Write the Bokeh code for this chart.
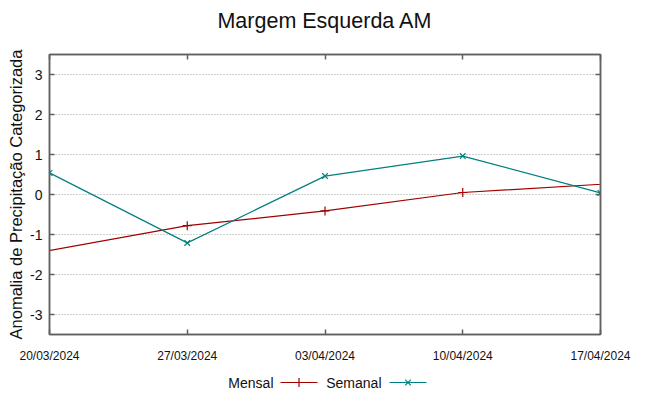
import pandas as pd
from bokeh.plotting import figure
from bokeh.models import (FixedTicker, DatetimeTickFormatter, DatetimeAxis, LinearAxis,
                          Range1d, Label)
from bokeh.layouts import column
from bokeh.embed import file_html
from bokeh.resources import INLINE

# ---- data ----
title_text = "Margem Esquerda AM"
y_label = "Anomalia de Precipitação Categorizada"
tick_dates = ["20/03/2024", "27/03/2024", "03/04/2024", "10/04/2024", "17/04/2024"]
y_ticks = [-3, -2, -1, 0, 1, 2, 3]
series_names = ["Mensal", "Semanal"]
mensal_dates = ["13/03/2024", "27/03/2024", "03/04/2024", "10/04/2024", "24/04/2024"]
mensal_values = [-2.02, -0.78, -0.41, 0.05, 0.46]
semanal_dates = ["20/03/2024", "27/03/2024", "03/04/2024", "10/04/2024", "17/04/2024"]
semanal_values = [0.54, -1.21, 0.46, 0.96, 0.04]

FONT = "Liberation Sans"
TXT = "#111111"
RED = "#a00000"
TEAL = "#008080"
FRAME = "#606060"

W, H_MAIN, H_LEG = 649, 365, 31
BL, BR, BT, BB = 49, 49, 54, 30
TICK = 5

def to_dt(lst):
    return pd.to_datetime(lst, format="%d/%m/%Y")

ticks_dt = to_dt(tick_dates)
tick_ms = [t.timestamp() * 1000 for t in ticks_dt]
x_ticker = FixedTicker(ticks=tick_ms)
y_ticker = FixedTicker(ticks=y_ticks)
fmt = "%d/%m/%Y"
dt_fmt = DatetimeTickFormatter(milliseconds=fmt, seconds=fmt, minsec=fmt, minutes=fmt,
                               hourmin=fmt, hours=fmt, days=fmt, months=fmt, years=fmt)

y_lo, y_hi = -3.5, 3.5
x_lo, x_hi = tick_ms[0], tick_ms[-1]

p = figure(width=W, height=H_MAIN, x_axis_type="datetime",
           x_range=Range1d(x_lo, x_hi), y_range=Range1d(y_lo, y_hi),
           output_backend="svg", toolbar_location=None,
           min_border_left=BL, min_border_right=BR, min_border_top=BT, min_border_bottom=BB)

p.outline_line_color = FRAME
p.outline_line_width = 1.5
p.xgrid.visible = False
p.ygrid.ticker = y_ticker
p.ygrid.grid_line_color = "#a0a0a0"
p.ygrid.grid_line_dash = "1 2"
p.ygrid.grid_line_width = 1

def style_ticks(ax):
    ax.axis_line_color = FRAME
    ax.axis_line_width = 1.5
    ax.major_tick_line_color = FRAME
    ax.major_tick_line_width = 1.5
    ax.major_tick_in = TICK
    ax.major_tick_out = 0
    ax.minor_tick_line_color = None
    ax.major_label_text_font = FONT
    ax.major_label_text_color = TXT

bax = p.xaxis[0]
bax.ticker = x_ticker
bax.formatter = dt_fmt
style_ticks(bax)
bax.major_label_text_font_size = "12px"
bax.major_label_standoff = 14

yax = p.yaxis[0]
yax.ticker = y_ticker
yax.major_label_overrides = {t: str(t) for t in y_ticks}
style_ticks(yax)
yax.major_label_text_font_size = "14px"
yax.major_label_standoff = 7
yax.axis_label = y_label
yax.axis_label_text_font = FONT
yax.axis_label_text_font_size = "16.5px"
yax.axis_label_text_font_style = "normal"
yax.axis_label_text_color = TXT
yax.axis_label_standoff = 2

# mirrored ticks on top and right (labels not drawn)
top_ax = DatetimeAxis(ticker=x_ticker, formatter=dt_fmt)
style_ticks(top_ax)
top_ax.major_label_text_color = None
p.add_layout(top_ax, "above")

# invisible spacer between frame and title
spacer = DatetimeAxis(ticker=x_ticker, formatter=dt_fmt)
spacer.axis_line_color = None
spacer.major_tick_line_color = None
spacer.minor_tick_line_color = None
spacer.major_tick_in = 0
spacer.major_tick_out = 14
spacer.major_label_text_color = None
p.add_layout(spacer, "above")

right_ax = LinearAxis(ticker=y_ticker)
style_ticks(right_ax)
right_ax.major_label_text_color = None
p.add_layout(right_ax, "right")

p.title.text = title_text
p.title.align = "center"
p.title.vertical_align = "top"
p.title.text_font = FONT
p.title.text_font_size = "21.5px"
p.title.text_font_style = "normal"
p.title.text_color = TXT
p.title.standoff = 12

mx = to_dt(mensal_dates)
sx = to_dt(semanal_dates)
p.line(mx, mensal_values, line_color=RED, line_width=1.2)
p.scatter(mx, mensal_values, marker="cross", size=9, line_color=RED, line_width=1.2)
p.line(sx, semanal_values, line_color=TEAL, line_width=1.2)
p.scatter(sx, semanal_values, marker="x", size=8, line_color=TEAL, line_width=1.2)

# ---- legend strip (gnuplot style: text, then sample); x in page pixels ----
lg = figure(width=W, height=H_LEG, x_range=Range1d(BL, W - BR), y_range=Range1d(0, H_LEG),
            output_backend="svg", toolbar_location=None,
            x_axis_location=None, y_axis_location=None, min_border=0)
lg.grid.visible = False
lg.outline_line_color = None

ly = 14
entries = [(series_names[0], 273, 280, 317, RED, "cross", 9),
           (series_names[1], 381, 389, 426, TEAL, "x", 8)]
for name, tx, x0, x1, col, mk, sz in entries:
    lg.add_layout(Label(x=tx, y=ly, text=name, text_align="right", text_baseline="middle",
                        text_font=FONT, text_font_size="14px", text_color=TXT))
    lg.segment(x0=[x0], y0=[ly], x1=[x1], y1=[ly], line_color=col, line_width=1.2)
    lg.scatter(x=[(x0 + x1) / 2], y=[ly], marker=mk, size=sz, line_color=col, line_width=1.2)

layout = column(p, lg, spacing=0)
open("out.html", "w").write(file_html(layout, INLINE))
